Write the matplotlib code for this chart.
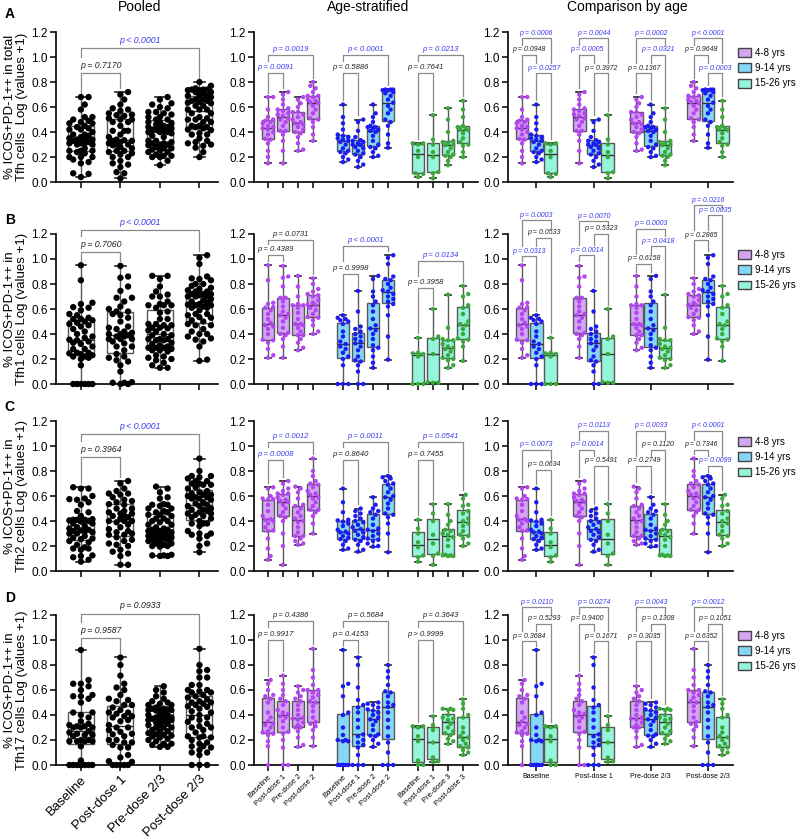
import numpy as np
import matplotlib.pyplot as plt
from matplotlib.patches import Patch

plt.rcParams['font.family'] = ['Liberation Sans', 'DejaVu Sans']

# ---------------------------------------------------------------
# data (log(values + 1))
# each list = [Baseline, Post-dose 1, Pre-dose 2(/3), Post-dose 2(/3)]
# ---------------------------------------------------------------
timepoints = ["Baseline", "Post-dose 1", "Pre-dose 2/3", "Post-dose 2/3"]
age_groups = ["4-8 yrs", "9-14 yrs", "15-26 yrs"]
strat_labels = ["Baseline", "Post-dose 1", "Pre-dose 2", "Post-dose 2",
                "Baseline", "Post-dose 1", "Pre-dose 2", "Post-dose 2",
                "Baseline", "Post-dose 1", "Pre-dose 3", "Post-dose 3"]

# A - total Tfh
tfh_4_8 = [
    [0.15, 0.20, 0.25, 0.31, 0.34, 0.345, 0.38, 0.40, 0.42, 0.43, 0.44, 0.45, 0.47, 0.48, 0.49, 0.50, 0.52, 0.58, 0.68, 0.68],
    [0.15, 0.25, 0.33, 0.38, 0.41, 0.41, 0.45, 0.48, 0.50, 0.51, 0.53, 0.54, 0.55, 0.57, 0.58, 0.59, 0.62, 0.66, 0.70, 0.72],
    [0.25, 0.26, 0.31, 0.36, 0.39, 0.40, 0.42, 0.44, 0.46, 0.47, 0.48, 0.50, 0.52, 0.54, 0.56, 0.56, 0.60, 0.63, 0.66, 0.68],
    [0.33, 0.38, 0.44, 0.48, 0.50, 0.51, 0.55, 0.58, 0.61, 0.63, 0.64, 0.65, 0.66, 0.68, 0.69, 0.69, 0.72, 0.75, 0.77, 0.80],
]
tfh_9_14 = [
    [0.16, 0.18, 0.20, 0.23, 0.24, 0.25, 0.27, 0.30, 0.32, 0.33, 0.34, 0.35, 0.36, 0.37, 0.38, 0.42, 0.47, 0.52, 0.62],
    [0.12, 0.14, 0.17, 0.20, 0.22, 0.23, 0.25, 0.27, 0.28, 0.295, 0.30, 0.31, 0.32, 0.33, 0.335, 0.36, 0.41, 0.48, 0.50],
    [0.20, 0.21, 0.24, 0.27, 0.28, 0.30, 0.33, 0.37, 0.40, 0.41, 0.42, 0.43, 0.44, 0.44, 0.45, 0.48, 0.52, 0.55, 0.62],
    [0.275, 0.31, 0.38, 0.45, 0.48, 0.50, 0.55, 0.58, 0.61, 0.635, 0.66, 0.69, 0.71, 0.72, 0.735, 0.735, 0.74, 0.74, 0.74],
]
tfh_15_26 = [
    [0.04, 0.065, 0.07, 0.20, 0.25, 0.30, 0.31, 0.31],
    [0.03, 0.07, 0.08, 0.20, 0.24, 0.30, 0.34, 0.535],
    [0.135, 0.17, 0.20, 0.21, 0.22, 0.24, 0.27, 0.295, 0.30, 0.31, 0.32, 0.33, 0.40, 0.50, 0.59],
    [0.20, 0.24, 0.29, 0.30, 0.32, 0.35, 0.39, 0.415, 0.42, 0.43, 0.44, 0.45, 0.52, 0.58, 0.65],
]

# B - Tfh1
tfh1_4_8 = [
    [0.21, 0.23, 0.28, 0.33, 0.35, 0.355, 0.40, 0.44, 0.46, 0.47, 0.49, 0.52, 0.56, 0.59, 0.61, 0.615, 0.64, 0.65, 0.83, 0.95],
    [0.21, 0.30, 0.36, 0.39, 0.40, 0.41, 0.45, 0.50, 0.53, 0.55, 0.56, 0.58, 0.62, 0.66, 0.69, 0.69, 0.78, 0.85, 0.86, 0.945],
    [0.27, 0.29, 0.33, 0.36, 0.39, 0.39, 0.42, 0.45, 0.47, 0.48, 0.48, 0.52, 0.57, 0.61, 0.63, 0.63, 0.64, 0.70, 0.78, 0.865],
    [0.40, 0.42, 0.47, 0.51, 0.53, 0.535, 0.56, 0.59, 0.61, 0.63, 0.635, 0.65, 0.67, 0.70, 0.71, 0.72, 0.74, 0.76, 0.80, 0.845],
]
tfh1_9_14 = [
    [0.0, 0.0, 0.0, 0.15, 0.20, 0.22, 0.25, 0.28, 0.30, 0.32, 0.34, 0.38, 0.42, 0.48, 0.50, 0.51, 0.52, 0.53, 0.55],
    [0.0, 0.0, 0.10, 0.15, 0.18, 0.19, 0.22, 0.27, 0.30, 0.325, 0.34, 0.36, 0.38, 0.40, 0.42, 0.44, 0.46, 0.58, 0.745],
    [0.13, 0.17, 0.22, 0.27, 0.29, 0.31, 0.36, 0.40, 0.43, 0.445, 0.47, 0.52, 0.58, 0.63, 0.66, 0.70, 0.74, 0.84, 0.865],
    [0.195, 0.38, 0.55, 0.62, 0.64, 0.66, 0.68, 0.70, 0.72, 0.74, 0.75, 0.77, 0.80, 0.83, 0.84, 0.86, 0.96, 1.01, 1.03],
]
tfh1_15_26 = [
    [0.0, 0.0, 0.0, 0.22, 0.24, 0.245, 0.25, 0.37],
    [0.01, 0.01, 0.015, 0.24, 0.36, 0.38, 0.60],
    [0.13, 0.15, 0.19, 0.20, 0.21, 0.23, 0.26, 0.28, 0.29, 0.30, 0.32, 0.35, 0.35, 0.36, 0.45, 0.715],
    [0.185, 0.30, 0.34, 0.355, 0.365, 0.40, 0.44, 0.47, 0.48, 0.50, 0.56, 0.61, 0.63, 0.70, 0.72, 0.785],
]

# C - Tfh2
tfh2_4_8 = [
    [0.09, 0.12, 0.18, 0.26, 0.32, 0.325, 0.35, 0.38, 0.40, 0.41, 0.415, 0.44, 0.48, 0.53, 0.57, 0.575, 0.58, 0.60, 0.66, 0.67],
    [0.05, 0.20, 0.30, 0.40, 0.43, 0.44, 0.47, 0.50, 0.53, 0.55, 0.56, 0.57, 0.59, 0.61, 0.62, 0.62, 0.64, 0.66, 0.70, 0.72],
    [0.21, 0.22, 0.24, 0.26, 0.28, 0.28, 0.31, 0.35, 0.39, 0.40, 0.42, 0.44, 0.47, 0.50, 0.52, 0.53, 0.58, 0.63, 0.66, 0.675],
    [0.30, 0.38, 0.44, 0.47, 0.49, 0.49, 0.52, 0.55, 0.58, 0.59, 0.61, 0.62, 0.64, 0.67, 0.69, 0.70, 0.72, 0.76, 0.80, 0.90],
]
tfh2_9_14 = [
    [0.17, 0.18, 0.21, 0.24, 0.255, 0.265, 0.28, 0.30, 0.31, 0.315, 0.33, 0.36, 0.38, 0.395, 0.405, 0.41, 0.47, 0.55, 0.66],
    [0.155, 0.17, 0.21, 0.24, 0.25, 0.27, 0.29, 0.31, 0.32, 0.335, 0.35, 0.37, 0.39, 0.40, 0.42, 0.44, 0.46, 0.48, 0.50],
    [0.195, 0.20, 0.22, 0.24, 0.25, 0.26, 0.28, 0.30, 0.32, 0.33, 0.34, 0.37, 0.42, 0.45, 0.47, 0.48, 0.50, 0.53, 0.59],
    [0.15, 0.30, 0.38, 0.43, 0.45, 0.46, 0.50, 0.54, 0.57, 0.59, 0.60, 0.63, 0.66, 0.69, 0.70, 0.72, 0.74, 0.75, 0.76],
]
tfh2_15_26 = [
    [0.075, 0.11, 0.125, 0.19, 0.23, 0.30, 0.34, 0.41],
    [0.05, 0.12, 0.14, 0.22, 0.29, 0.40, 0.46, 0.535],
    [0.12, 0.12, 0.125, 0.125, 0.13, 0.20, 0.25, 0.27, 0.29, 0.30, 0.32, 0.33, 0.37, 0.40, 0.45, 0.535],
    [0.20, 0.22, 0.26, 0.28, 0.29, 0.32, 0.36, 0.38, 0.40, 0.42, 0.46, 0.48, 0.52, 0.53, 0.58, 0.61],
]

# D - Tfh17
tfh17_4_8 = [
    [0.0, 0.15, 0.19, 0.24, 0.25, 0.26, 0.27, 0.30, 0.32, 0.33, 0.35, 0.38, 0.42, 0.50, 0.53, 0.55, 0.56, 0.60, 0.65, 0.68],
    [0.0, 0.0, 0.14, 0.20, 0.25, 0.265, 0.30, 0.35, 0.38, 0.39, 0.41, 0.42, 0.44, 0.48, 0.51, 0.53, 0.56, 0.60, 0.65, 0.715],
    [0.145, 0.16, 0.22, 0.27, 0.30, 0.30, 0.32, 0.34, 0.36, 0.37, 0.38, 0.40, 0.44, 0.48, 0.51, 0.53, 0.55, 0.58, 0.60, 0.63],
    [0.15, 0.22, 0.28, 0.31, 0.33, 0.345, 0.38, 0.43, 0.47, 0.50, 0.51, 0.54, 0.56, 0.58, 0.60, 0.60, 0.64, 0.70, 0.76, 0.93],
]
tfh17_9_14 = [
    [0.0, 0.0, 0.0, 0.0, 0.0, 0.0, 0.0, 0.19, 0.19, 0.20, 0.20, 0.24, 0.30, 0.40, 0.42, 0.55, 0.63, 0.65, 0.92],
    [0.0, 0.0, 0.0, 0.08, 0.14, 0.16, 0.18, 0.20, 0.23, 0.245, 0.30, 0.36, 0.42, 0.46, 0.48, 0.52, 0.62, 0.80, 0.86],
    [0.145, 0.17, 0.20, 0.23, 0.235, 0.245, 0.28, 0.32, 0.35, 0.365, 0.38, 0.40, 0.42, 0.435, 0.445, 0.46, 0.48, 0.49, 0.50],
    [0.0, 0.0, 0.0, 0.10, 0.18, 0.23, 0.30, 0.36, 0.42, 0.465, 0.48, 0.50, 0.55, 0.58, 0.59, 0.64, 0.70, 0.75, 0.80],
]
tfh17_15_26 = [
    [0.0, 0.0, 0.036, 0.19, 0.23, 0.30, 0.31, 0.31],
    [0.025, 0.03, 0.06, 0.18, 0.28, 0.32, 0.39],
    [0.17, 0.19, 0.21, 0.24, 0.255, 0.27, 0.30, 0.33, 0.36, 0.37, 0.38, 0.40, 0.44, 0.44, 0.45, 0.45],
    [0.08, 0.10, 0.12, 0.14, 0.15, 0.17, 0.20, 0.22, 0.23, 0.26, 0.30, 0.38, 0.40, 0.45, 0.49, 0.525],
]

# p values: (first box, second box, bracket height, label, significant)
pooled_p = [
    [(0, 1, 0.87, "p = 0.7170", False), (0, 3, 1.07, "p < 0.0001", True)],
    [(0, 1, 1.056, "p = 0.7060", False), (0, 3, 1.232, "p < 0.0001", True)],
    [(0, 1, 0.91, "p = 0.3964", False), (0, 3, 1.096, "p < 0.0001", True)],
    [(0, 1, 1.016, "p = 0.9587", False), (0, 3, 1.21, "p = 0.0933", False)],
]
strat_p = [
    [(0, 1, 0.87, "p = 0.0091", True), (0, 3, 1.016, "p = 0.0019", True),
     (5, 6, 0.87, "p = 0.5886", False), (5, 8, 1.016, "p < 0.0001", True),
     (10, 11, 0.87, "p = 0.7641", False), (10, 13, 1.016, "p = 0.0213", True)],
    [(0, 1, 1.032, "p = 0.4389", False), (0, 3, 1.152, "p = 0.0731", False),
     (5, 6, 0.88, "p = 0.9998", False), (5, 8, 1.10, "p < 0.0001", True),
     (10, 11, 0.768, "p = 0.3958", False), (10, 13, 0.984, "p = 0.0134", True)],
    [(0, 1, 0.89, "p = 0.0008", True), (0, 3, 1.03, "p = 0.0012", True),
     (5, 6, 0.89, "p = 0.8640", False), (5, 8, 1.03, "p = 0.0011", True),
     (10, 11, 0.89, "p = 0.7455", False), (10, 13, 1.03, "p = 0.0541", True)],
    [(0, 1, 1.0, "p = 0.9917", False), (0, 3, 1.15, "p = 0.4386", False),
     (5, 6, 1.0, "p = 0.4153", False), (5, 8, 1.15, "p = 0.5684", False),
     (10, 11, 1.0, "p > 0.9999", False), (10, 13, 1.15, "p = 0.3643", False)],
]
age_p = [
    [(1, 2, 0.87, "p = 0.0257", True), (0, 1, 1.016, "p = 0.0948", False), (0, 2, 1.15, "p = 0.0006", True),
     (5, 6, 0.87, "p = 0.3972", False), (4, 5, 1.016, "p = 0.0005", True), (4, 6, 1.15, "p = 0.0044", True),
     (8, 9, 0.87, "p = 0.1367", False), (9, 10, 1.016, "p = 0.0321", True), (8, 10, 1.15, "p = 0.0002", True),
     (13, 14, 0.87, "p = 0.0003", True), (12, 13, 1.016, "p = 0.9648", False), (12, 14, 1.15, "p < 0.0001", True)],
    [(0, 1, 1.02, "p = 0.0313", True), (1, 2, 1.17, "p = 0.0533", False), (0, 2, 1.31, "p = 0.0003", True),
     (4, 5, 1.03, "p = 0.0014", True), (5, 6, 1.20, "p = 0.5323", False), (4, 6, 1.30, "p = 0.0070", True),
     (8, 9, 0.96, "p = 0.6158", False), (9, 10, 1.10, "p = 0.0418", True), (8, 10, 1.24, "p = 0.0003", True),
     (12, 13, 1.15, "p = 0.2865", False), (13, 14, 1.35, "p = 0.0035", True), (12, 14, 1.43, "p = 0.0216", True)],
    [(1, 2, 0.81, "p = 0.0634", False), (0, 2, 0.97, "p = 0.0073", True),
     (5, 6, 0.84, "p = 0.5491", False), (4, 5, 0.97, "p = 0.0014", True), (4, 6, 1.12, "p = 0.0113", True),
     (8, 9, 0.84, "p = 0.2749", False), (9, 10, 0.97, "p = 0.1120", False), (8, 10, 1.12, "p = 0.0033", True),
     (13, 14, 0.84, "p = 0.0099", True), (12, 13, 0.97, "p = 0.7346", False), (12, 14, 1.12, "p < 0.0001", True)],
    [(0, 1, 0.99, "p = 0.3684", False), (1, 2, 1.13, "p = 0.5293", False), (0, 2, 1.26, "p = 0.0110", True),
     (5, 6, 0.99, "p = 0.1671", False), (4, 5, 1.13, "p = 0.9400", False), (4, 6, 1.26, "p = 0.0274", True),
     (8, 9, 0.99, "p = 0.3035", False), (9, 10, 1.13, "p = 0.1308", False), (8, 10, 1.26, "p = 0.0043", True),
     (12, 13, 0.99, "p = 0.6352", False), (13, 14, 1.13, "p = 0.1051", False), (12, 14, 1.26, "p = 0.0012", True)],
]

row_letters = ["A", "B", "C", "D"]
ylabels = ["% ICOS+PD-1++ in total\nTfh cells  Log (values +1)",
           "% ICOS+PD-1++ in\nTfh1 cells Log (values +1)",
           "% ICOS+PD-1++ in\nTfh2 cells Log (values +1)",
           "% ICOS+PD-1++ in\nTfh17 cells Log (values +1)"]

# ---------------------------------------------------------------
# styles
# ---------------------------------------------------------------
PT_COLORS = ["#B445F2", "#1C1CF2", "#3CA83C"]
BOX_COLORS = ["#D4A5F3", "#84D8F6", "#94F5DB"]
EDGE = "#585858"
P_BLUE = "#3A3AF0"
P_BLACK = "#222222"
YPX = 125.0  # pixels per data unit on y


def swarm_x(vals, unit_px, diam, half_w):
    """offsets (data units) so that dots do not overlap, GraphPad style"""
    vals = np.asarray(vals, float)
    ypx = vals * YPX
    step = diam * 0.6
    cands = [0.0]
    k = 1
    while k * step <= half_w:
        cands += [k * step, -k * step]
        k += 1
    px, py = [], []
    out = np.zeros(len(vals))
    for idx in np.argsort(vals, kind="stable"):
        y = ypx[idx]
        best, best_d = 0.0, -1.0
        for c in cands:
            d = min([np.hypot(c - a, y - b) for a, b in zip(px, py)] or [1e9])
            if d >= diam * 0.95:
                best = c
                break
            if d > best_d:
                best_d, best = d, c
        px.append(best)
        py.append(y)
        out[idx] = best / unit_px
    return out


def draw_boxes(ax, groups, positions, faces, dots, width, unit_px, diam, half_w, s, capw):
    bp = ax.boxplot(groups, positions=positions, widths=width, whis=(0, 100),
                    patch_artist=True, showfliers=False, capwidths=capw,
                    boxprops=dict(edgecolor=EDGE, linewidth=1.0),
                    medianprops=dict(color="#333333", linewidth=1.0),
                    whiskerprops=dict(color=EDGE, linewidth=1.0),
                    capprops=dict(color="#222222", linewidth=1.2))
    for patch, fc in zip(bp["boxes"], faces):
        patch.set_facecolor(fc)
    for vals, x, c in zip(groups, positions, dots):
        off = swarm_x(vals, unit_px, diam, half_w)
        ax.scatter(x + off, vals, s=s, color=c, edgecolors="none", zorder=4, clip_on=False)


def draw_pvalues(ax, specs, tops, text_h, fs, pad):
    specs = sorted(specs, key=lambda t: t[2])
    done = []
    for i, j, y, label, sig in specs:
        legs = []
        for x in (i, j):
            bottom = tops[x] + 0.035
            for bi, bj, by in done:
                if bi <= x <= bj:
                    bottom = max(bottom, by + text_h)
            legs.append(min(bottom, y - 0.03))
        ax.plot([i, i, j, j], [legs[0], y, y, legs[1]], color="#8a8a8a", lw=0.9,
                clip_on=False, zorder=2)
        ax.annotate(label, ((i + j) / 2, y), xytext=(0, pad), textcoords="offset points",
                    ha="center", va="bottom", fontsize=fs, style="italic",
                    color=P_BLUE if sig else P_BLACK, annotation_clip=False)
        done.append((i, j, y))


def style_axis(ax, xlim):
    ax.set_xlim(*xlim)
    ax.set_ylim(0, 1.2)
    ax.set_yticks(np.arange(0, 1.21, 0.2))
    ax.set_yticklabels([f"{v:.1f}" for v in np.arange(0, 1.21, 0.2)])
    for sp in ("top", "right"):
        ax.spines[sp].set_visible(False)
    for sp in ("left", "bottom"):
        ax.spines[sp].set_linewidth(1.2)
    ax.tick_params(direction="out", length=4, width=1.1, labelsize=8.5, pad=2)


# ---------------------------------------------------------------
# figure
# ---------------------------------------------------------------
fig = plt.figure(figsize=(8, 8.39), dpi=100)

row_data = [
    (tfh_4_8, tfh_9_14, tfh_15_26),
    (tfh1_4_8, tfh1_9_14, tfh1_15_26),
    (tfh2_4_8, tfh2_9_14, tfh2_15_26),
    (tfh17_4_8, tfh17_9_14, tfh17_15_26),
]
bottoms = [0.783, 0.5423, 0.3194, 0.0882]
H = 0.1788
cols = [(0.07, 0.2025), (0.3175, 0.28), (0.635, 0.28125)]
letter_y = [0.983, 0.738, 0.515, 0.287]

for r, ages in enumerate(row_data):
    last = r == 3
    # ---------- pooled ----------
    ax = fig.add_axes([cols[0][0], bottoms[r], cols[0][1], H])
    pooled = [sum((ages[a][t] for a in range(3)), []) for t in range(4)]
    pos = np.arange(4)
    draw_boxes(ax, pooled, pos, ["white"] * 4, ["black"] * 4, 0.66, 39.5, 6.4, 14, 21, 0.26)
    style_axis(ax, (-0.63, 3.47))
    ax.set_xticks(pos)
    if last:
        ax.set_xticklabels(timepoints, rotation=45, ha="right", rotation_mode="anchor", fontsize=9.5)
    else:
        ax.set_xticklabels([])
    ax.set_ylabel(ylabels[r], fontsize=9.5, linespacing=1.0)
    ax.yaxis.set_label_coords(-0.17, 0.5)
    draw_pvalues(ax, pooled_p[r], [max(v) for v in pooled], 0.13, 6.3, 2.5)

    # ---------- age-stratified ----------
    ax = fig.add_axes([cols[1][0], bottoms[r], cols[1][1], H])
    groups, pos, faces, dots = [], [], [], []
    for a in range(3):
        for t in range(4):
            groups.append(ages[a][t])
            pos.append(a * 5 + t)
            faces.append(BOX_COLORS[a])
            dots.append(PT_COLORS[a])
    draw_boxes(ax, groups, pos, faces, dots, 0.85, 15, 4.4, 6, 10, 0.4)
    style_axis(ax, (-0.93, 14))
    ax.set_xticks(pos)
    if last:
        ax.set_xticklabels(strat_labels, rotation=45, ha="right", rotation_mode="anchor", fontsize=5.5)
    else:
        ax.set_xticklabels([])
    tops = {p: max(g) for p, g in zip(pos, groups)}
    draw_pvalues(ax, strat_p[r], tops, 0.10, 5.5, 1.5)

    # ---------- comparison by age ----------
    ax = fig.add_axes([cols[2][0], bottoms[r], cols[2][1], H])
    groups, pos, faces, dots = [], [], [], []
    for t in range(4):
        for a in range(3):
            groups.append(ages[a][t])
            pos.append(t * 4 + a)
            faces.append(BOX_COLORS[a])
            dots.append(PT_COLORS[a])
    draw_boxes(ax, groups, pos, faces, dots, 0.9, 14.3, 4.4, 6, 10, 0.4)
    style_axis(ax, (-0.98, 14.75))
    ax.set_xticks([1, 5, 9, 13])
    if last:
        ax.set_xticklabels(timepoints, fontsize=5)
    else:
        ax.set_xticklabels([])
    tops = {p: max(g) for p, g in zip(pos, groups)}
    draw_pvalues(ax, age_p[r], tops, 0.08, 5, 1.2)

    handles = [Patch(facecolor=BOX_COLORS[a], edgecolor="#444444", label=age_groups[a]) for a in range(3)]
    ax.legend(handles=handles, loc="upper left", bbox_to_anchor=(1.02, 0.895), frameon=False,
              fontsize=7, handlelength=1.35, handleheight=1.0, labelspacing=0.55,
              handletextpad=0.45, borderpad=0, borderaxespad=0)

    fig.text(0.006, letter_y[r], row_letters[r], fontsize=10, fontweight="bold", va="center")

fig.text(0.175, 0.9917, "Pooled", fontsize=10, ha="center", va="center")
fig.text(0.46, 0.9917, "Age-stratified", fontsize=10, ha="center", va="center")
fig.text(0.784, 0.9917, "Comparison by age", fontsize=10, ha="center", va="center")

fig.savefig("out.png", dpi=100)
